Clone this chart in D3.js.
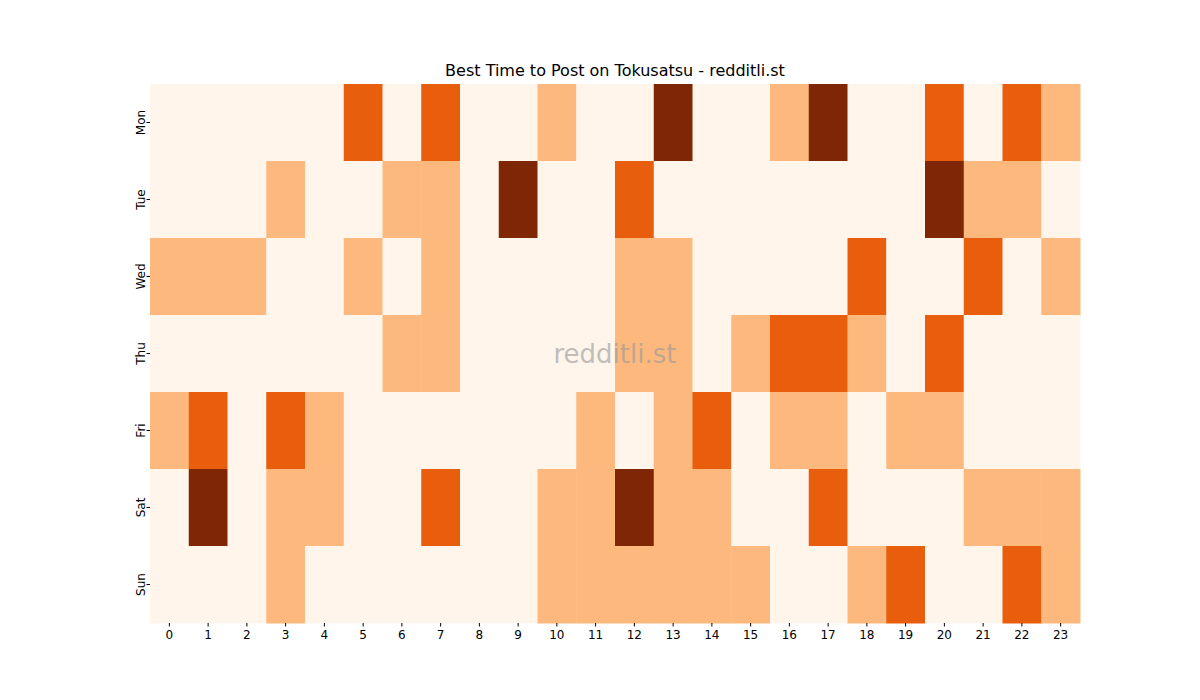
<!DOCTYPE html>
<html>
<head>
<meta charset="utf-8">
<script src="https://cdn.jsdelivr.net/npm/d3@7"></script>
<style>
  body { margin: 0; background: #fff; }
  text { font-family: "DejaVu Sans", sans-serif; }
</style>
</head>
<body>
<div id="chart"></div>
<script>
// Data: posting activity level per weekday and hour
var days = ["Mon", "Tue", "Wed", "Thu", "Fri", "Sat", "Sun"];
var hours = d3.range(24);
var mon = [0,0,0,0,0,2,0,2,0,0,1,0,0,3,0,0,1,3,0,0,2,0,2,1];
var tue = [0,0,0,1,0,0,1,1,0,3,0,0,2,0,0,0,0,0,0,0,3,1,1,0];
var wed = [1,1,1,0,0,1,0,1,0,0,0,0,1,1,0,0,0,0,2,0,0,2,0,1];
var thu = [0,0,0,0,0,0,1,1,0,0,0,0,1,1,0,1,2,2,1,0,2,0,0,0];
var fri = [1,2,0,2,1,0,0,0,0,0,0,1,0,1,2,0,1,1,0,1,1,0,0,0];
var sat = [0,3,0,1,1,0,0,2,0,0,1,1,3,1,1,0,0,2,0,0,0,1,1,1];
var sun = [0,0,0,1,0,0,0,0,0,0,1,1,1,1,1,1,0,0,1,2,0,0,2,1];
var rows = [mon, tue, wed, thu, fri, sat, sun];
var levelColors = ["#fff5eb", "#fdb97d", "#e95e0d", "#7f2704"];

var svgWidth = 1200, svgHeight = 700;
var margin = { top: 84, right: 120, bottom: 77, left: 150 };
var width = svgWidth - margin.left - margin.right,
    height = svgHeight - margin.top - margin.bottom;

var svg = d3.select("#chart").append("svg")
    .attr("width", svgWidth)
    .attr("height", svgHeight);

var g = svg.append("g")
    .attr("transform", `translate(${margin.left}, ${margin.top})`);

var x = d3.scaleBand().domain(hours).range([0, width]);
var y = d3.scaleBand().domain(days).range([0, height]);
var color = d3.scaleOrdinal().domain([0, 1, 2, 3]).range(levelColors);

var cells = [];
rows.forEach((r, i) => r.forEach((v, h) => cells.push({ day: days[i], hour: h, v: v })));

g.selectAll("rect").data(cells).enter().append("rect")
    .attr("x", d => x(d.hour))
    .attr("y", d => y(d.day))
    .attr("width", x.bandwidth() + 0.5)
    .attr("height", y.bandwidth() + 0.5)
    .attr("fill", d => color(d.v));

var xAxis = g.append("g")
    .attr("transform", `translate(0, ${height})`)
    .call(d3.axisBottom(x).tickSize(3.5).tickPadding(4));
xAxis.select(".domain").remove();
xAxis.selectAll("text").attr("font-size", 12).attr("fill", "#000");

var yAxis = g.append("g").call(d3.axisLeft(y).tickSize(3.5).tickPadding(4));
yAxis.select(".domain").remove();
yAxis.selectAll("text")
    .attr("font-size", 12).attr("fill", "#000")
    .attr("transform", "rotate(-90)")
    .attr("x", 0).attr("dx", 0)
    .attr("y", -9)
    .attr("text-anchor", "middle");

svg.append("text")
    .attr("x", margin.left + width / 2).attr("y", 76)
    .attr("text-anchor", "middle").attr("font-size", 16)
    .text("Best Time to Post on Tokusatsu - redditli.st");

svg.append("text")
    .attr("x", margin.left + width / 2).attr("y", margin.top + height / 2 + 9)
    .attr("text-anchor", "middle").attr("font-size", 26)
    .attr("fill", "#999").attr("opacity", 0.6)
    .text("redditli.st");
</script>
</body>
</html>
